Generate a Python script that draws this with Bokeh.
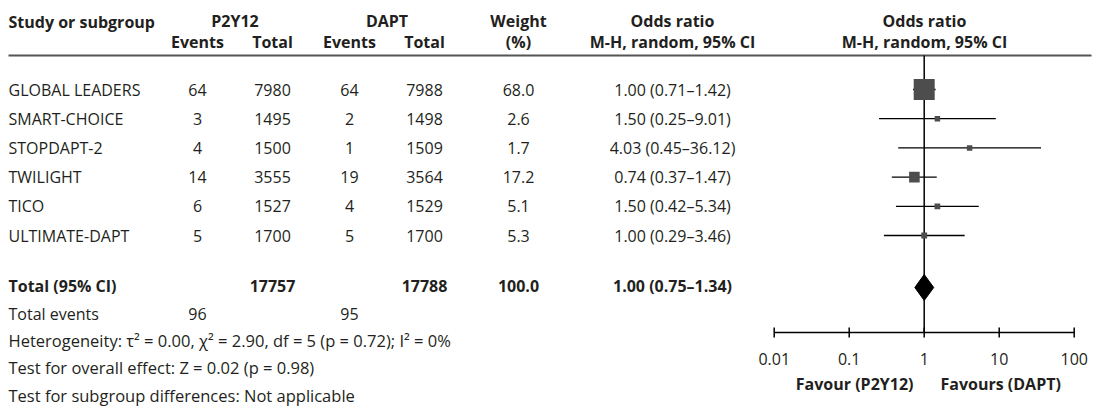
import numpy as np
from bokeh.plotting import figure
from bokeh.models import Range1d, LogScale
from bokeh.core.properties import value
from bokeh.embed import file_html
from bokeh.resources import INLINE

# ---------------- data ----------------
studies = ["GLOBAL LEADERS", "SMART-CHOICE", "STOPDAPT-2", "TWILIGHT", "TICO", "ULTIMATE-DAPT"]
p2y12_events = [64, 3, 4, 14, 6, 5]
p2y12_total = [7980, 1495, 1500, 3555, 1527, 1700]
dapt_events = [64, 2, 1, 19, 4, 5]
dapt_total = [7988, 1498, 1509, 3564, 1529, 1700]
weights = [68.0, 2.6, 1.7, 17.2, 5.1, 5.3]
odds = [1.00, 1.50, 4.03, 0.74, 1.50, 1.00]
ci_low = [0.71, 0.25, 0.45, 0.37, 0.42, 0.29]
ci_high = [1.42, 9.01, 36.12, 1.47, 5.34, 3.46]

total_p2y12 = 17757
total_dapt = 17788
total_weight = 100.0
total_or = 1.00
total_low = 0.75
total_high = 1.34
total_events_p2y12 = 96
total_events_dapt = 95

axis_ticks = [0.01, 0.1, 1, 10, 100]
axis_labels = ["0.01", "0.1", "1", "10", "100"]

footnotes = [
    "Heterogeneity: \u03c4\u00b2 = 0.00, \u03c7\u00b2 = 2.90, df = 5 (p = 0.72); I\u00b2 = 0%",
    "Test for overall effect: Z = 0.02 (p = 0.98)",
    "Test for subgroup differences: Not applicable",
]

# ---------------- layout constants (page pixel coordinates) ----------------
W, H = 1099, 407
FONT = value("Open Sans")
FS = "16px"
TXT = "#231f20"

COL_NAME = 8
COL_EV1, COL_TOT1, COL_EV2, COL_TOT2 = 197, 272, 349, 424
COL_W, COL_OR, COL_FOREST = 518, 672, 924
ROW0, ROWH = 89, 29.2
Y_TOTAL = 285
Y_LINE = 55
Y_AXIS = 332
FOOT0, FOOTH = 313, 27.2
LINE_END = 1091

X_ONE, DEC = 923.7, 75.0

p = figure(width=W, height=H, x_range=Range1d(0, W), y_range=Range1d(H, 0),
           output_backend="svg", toolbar_location=None,
           x_axis_location=None, y_axis_location=None, min_border=0)
p.grid.visible = False
p.outline_line_color = None
p.background_fill_color = "white"

p.extra_x_ranges = {"or": Range1d(10 ** (-X_ONE / DEC), 10 ** ((W - X_ONE) / DEC))}
p.extra_x_scales = {"or": LogScale()}


def txt(x, y, t, align="center", bold=False, size=FS):
    p.text(x=x, y=y, text=t, text_font=FONT, text_font_size=size,
           text_align=align, text_baseline="middle", text_color=TXT,
           text_font_style="bold" if bold else "normal")


# header
txt([COL_NAME], [21], ["Study or subgroup"], align="left", bold=True)
txt([(COL_EV1 + COL_TOT1) / 2, (COL_EV2 + COL_TOT2) / 2, COL_W, COL_OR, COL_FOREST], [20] * 5,
    ["P2Y12", "DAPT", "Weight", "Odds ratio", "Odds ratio"], bold=True)
txt([COL_EV1, COL_TOT1, COL_EV2, COL_TOT2, COL_W, COL_OR, COL_FOREST], [41] * 7,
    ["Events", "Total", "Events", "Total", "(%)", "M-H, random, 95% CI", "M-H, random, 95% CI"], bold=True)

p.segment(x0=[COL_NAME], y0=[Y_LINE], x1=[LINE_END], y1=[Y_LINE], line_color="#555555", line_width=2.2)

# rows
ys = [ROW0 + i * ROWH for i in range(len(studies))]
n = len(studies)
txt([COL_NAME] * n, ys, studies, align="left")
txt([COL_EV1] * n, ys, [str(v) for v in p2y12_events])
txt([COL_TOT1] * n, ys, [str(v) for v in p2y12_total])
txt([COL_EV2] * n, ys, [str(v) for v in dapt_events])
txt([COL_TOT2] * n, ys, [str(v) for v in dapt_total])
txt([COL_W] * n, ys, [f"{v:.1f}" for v in weights])
txt([COL_OR] * n, ys, [f"{o:.2f} ({l:.2f}\u2013{h:.2f})" for o, l, h in zip(odds, ci_low, ci_high)])

# total row
txt([COL_NAME], [Y_TOTAL], ["Total (95% CI)"], align="left", bold=True)
txt([COL_TOT1, COL_TOT2, COL_W, COL_OR], [Y_TOTAL] * 4,
    [str(total_p2y12), str(total_dapt), f"{total_weight:.1f}",
     f"{total_or:.2f} ({total_low:.2f}\u2013{total_high:.2f})"], bold=True)

# footnotes
txt([COL_NAME], [FOOT0], ["Total events"], align="left")
txt([COL_EV1, COL_EV2], [FOOT0] * 2, [str(total_events_p2y12), str(total_events_dapt)])
txt([COL_NAME] * 3, [FOOT0 + (i + 1) * FOOTH for i in range(3)], footnotes, align="left", size="16.5px")

# forest: vertical line of no effect
p.segment(x0=[1], y0=[Y_LINE], x1=[1], y1=[Y_AXIS], x_range_name="or",
          line_color="black", line_width=1.5)

# CIs and study squares
p.segment(x0=ci_low, y0=ys, x1=ci_high, y1=ys, x_range_name="or",
          line_color="black", line_width=1.3)
sizes = [max(5.5, 21 * np.sqrt(w / 68.0)) for w in weights]
p.scatter(x=odds, y=ys, size=sizes, marker="square", x_range_name="or",
          fill_color="#4d4d4d", line_color=None)

# pooled diamond
YD = Y_TOTAL + 2
p.patch(x=[total_low, total_or, total_high, total_or],
        y=[YD, YD - 13, YD, YD + 13],
        x_range_name="or", fill_color="black", line_color="black")

# axis
p.segment(x0=[axis_ticks[0]], y0=[Y_AXIS], x1=[axis_ticks[-1]], y1=[Y_AXIS],
          x_range_name="or", line_color="black", line_width=1.5)
p.segment(x0=axis_ticks, y0=[Y_AXIS - 5] * 5, x1=axis_ticks, y1=[Y_AXIS + 5] * 5,
          x_range_name="or", line_color="black", line_width=1.5)
p.text(x=axis_ticks, y=[358] * 5, text=axis_labels, x_range_name="or",
       text_font=FONT, text_font_size=FS, text_align="center",
       text_baseline="middle", text_color=TXT)
txt([913], [383], ["Favour (P2Y12)"], align="right", bold=True)
txt([940], [383], ["Favours (DAPT)"], align="left", bold=True)

open("out.html", "w").write(file_html(p, INLINE))
